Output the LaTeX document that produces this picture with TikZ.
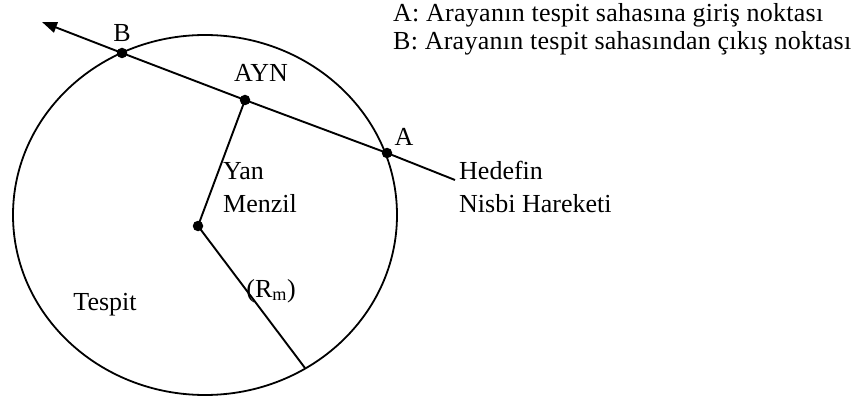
\documentclass[tikz,border=0pt]{standalone}
\usepackage{fontspec}
\setmainfont{Liberation Serif}
\newfontfamily\legendfont[LetterSpace=1]{Liberation Serif}
\usepackage{tikz}
\usetikzlibrary{arrows.meta}
\usetikzlibrary{positioning}
\usetikzlibrary{shapes.geometric}

\begin{document}
\begin{tikzpicture}[
        x=1pt, y=-1pt,
        font=\fontsize{26}{30}\selectfont,
        zone/.style={ellipse, draw, line width=1.8pt, inner sep=0pt,
          minimum width=384pt, minimum height=360pt},
        pt/.style={circle, fill, minimum size=10.5pt, inner sep=0pt},
        lbl/.style={anchor=base, inner sep=0pt},
        lblL/.style={anchor=base west, inner sep=0pt},
        legend/.style={lblL, font=\legendfont\fontsize{26}{30}\selectfont},
        seg/.style={line width=1.9pt},
        motion/.style={seg, -{Triangle[length=15pt, width=11pt]}},
      ]
      \useasboundingbox (0,0) rectangle (858,403);

      % === detection zone ===
      \node[zone] (zone) at (205,215) {};
      \node[lbl] (tespit) at (105,310) {Tespit};

      % === points ===
      \node[pt] (ctr) at (198,226) {};
      \node[pt] (A) at (387,153) {};
      \node[pt] (AYN) at (245,100) {};
      \node[pt] (B) at (122,53) {};
      \coordinate (hend) at (455,180);
      \coordinate (tip) at (42,22);
      \coordinate (rim) at (305,368);

      % === lines ===
      \draw[motion] (hend) -- (A.center) -- (AYN.center) -- (B.center) -- (tip);
      \draw[seg] (ctr.center) -- (AYN.center);
      \draw[seg] (ctr.center) -- (rim);

      % === labels ===
      \node[lbl] (Blbl) at (122,42) {B};
      \node[lbl] (Albl) at (404,146) {A};
      \node[lbl] (AYNlbl) at (261,82) {AYN};
      \node[lblL] (yan) at (223,180) {Yan};
      \node[lblL] (menzil) at (223,212) {Menzil};
      \node[lbl] (rm) at (271,297) {(R\textsubscript{m})};
      \node[lblL] (hedef1) at (459,180) {Hedefin};
      \node[lblL] (hedef2) at (459,212) {Nisbi Hareketi};

      % legend
      \node[legend] (legA) at (393,22) {A: Arayanın tespit sahasına giriş noktası};
      \node[legend] (legB) at (393,50) {B: Arayanın tespit sahasından çıkış noktası};
\end{tikzpicture}
\end{document}
